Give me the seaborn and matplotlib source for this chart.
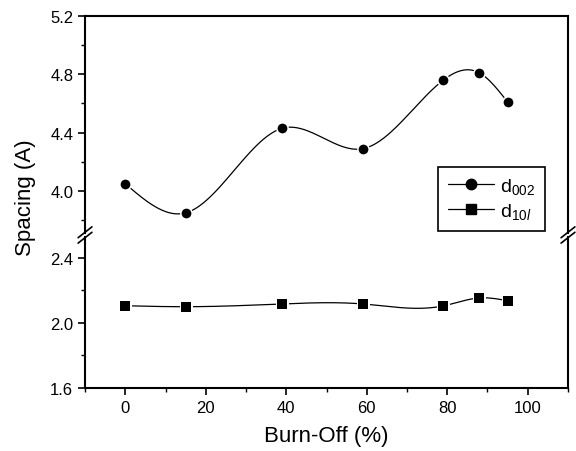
import numpy as np
import matplotlib
matplotlib.use("Agg")
import matplotlib.pyplot as plt
from matplotlib.lines import Line2D
import seaborn as sns

sns.set_style("ticks")
plt.rcParams['font.family'] = ['Liberation Sans', 'DejaVu Sans']
plt.rcParams['mathtext.fontset'] = 'custom'
plt.rcParams['mathtext.rm'] = 'Liberation Sans'
plt.rcParams['mathtext.it'] = 'Liberation Sans:italic'
plt.rcParams['text.color'] = 'black'
plt.rcParams['axes.labelcolor'] = 'black'
plt.rcParams['axes.edgecolor'] = 'black'

burn_off = [0, 15, 39, 59, 79, 88, 95]
d002 = [4.05, 3.85, 4.43, 4.29, 4.76, 4.81, 4.61]
d10l = [2.106, 2.100, 2.117, 2.117, 2.105, 2.154, 2.137]


def spline(x, y, n=300):
    # natural cubic spline, used only to draw the smooth connecting line
    x = np.asarray(x, float)
    y = np.asarray(y, float)
    k = len(x)
    h = np.diff(x)
    A = np.zeros((k, k))
    b = np.zeros(k)
    A[0, 0] = A[-1, -1] = 1
    for i in range(1, k - 1):
        A[i, i - 1] = h[i - 1]
        A[i, i] = 2 * (h[i - 1] + h[i])
        A[i, i + 1] = h[i]
        b[i] = 3 * ((y[i + 1] - y[i]) / h[i] - (y[i] - y[i - 1]) / h[i - 1])
    c = np.linalg.solve(A, b)
    xs = np.linspace(x[0], x[-1], n)
    idx = np.clip(np.searchsorted(x, xs) - 1, 0, k - 2)
    dx = xs - x[idx]
    bb = (y[idx + 1] - y[idx]) / h[idx] - h[idx] * (2 * c[idx] + c[idx + 1]) / 3
    dd = (c[idx + 1] - c[idx]) / (3 * h[idx])
    ys = y[idx] + bb * dx + c[idx] * dx ** 2 + dd * dx ** 3
    return xs, ys


fig = plt.figure(figsize=(5.76, 4.52), dpi=100)
ax_top = fig.add_axes([0.1476, 0.4823, 0.8385, 0.4801])
ax_bot = fig.add_axes([0.1476, 0.1394, 0.8385, 0.3341])

series = [(ax_top, d002, 'o', 7), (ax_bot, d10l, 's', 6.5)]
for ax, vals, mk, ms in series:
    xs, ys = spline(burn_off, vals)
    sns.lineplot(x=xs, y=ys, ax=ax, color='black', linewidth=0.9, sort=False)
    ax.plot(burn_off, vals, linestyle='none', marker=mk, markersize=ms,
            color='black', markeredgecolor='white', markeredgewidth=2.2)
    ax.plot(burn_off, vals, linestyle='none', marker=mk, markersize=ms,
            color='black', markeredgewidth=0)
    ax.set_xlim(-10, 110)
    for s in ax.spines.values():
        s.set_linewidth(1.5)
    ax.tick_params(which='major', direction='out', length=5, width=1.2,
                   labelsize=12, colors='black')
    ax.tick_params(which='minor', direction='out', length=3, width=1,
                   colors='black')

ax_top.set_ylim(3.712, 5.2)
ax_top.set_yticks([4.0, 4.4, 4.8, 5.2])
ax_top.set_yticks([3.8, 4.2, 4.6, 5.0], minor=True)
ax_top.spines['bottom'].set_visible(False)
ax_top.tick_params(axis='x', which='both', bottom=False, labelbottom=False)
ax_top.yaxis.set_major_formatter(matplotlib.ticker.FormatStrFormatter('%.1f'))

ax_bot.set_ylim(1.6, 2.529)
ax_bot.set_yticks([1.6, 2.0, 2.4])
ax_bot.set_yticks([1.8, 2.2], minor=True)
ax_bot.set_xticks([0, 20, 40, 60, 80, 100])
ax_bot.set_xticks([-10, 10, 30, 50, 70, 90, 110], minor=True)
ax_bot.spines['top'].set_visible(False)
ax_bot.yaxis.set_major_formatter(matplotlib.ticker.FormatStrFormatter('%.1f'))
ax_bot.set_xlabel("Burn-Off (%)", fontsize=16, labelpad=7)

fig.text(0.045, 0.563, "Spacing (A)", rotation=90, fontsize=16,
         ha='center', va='center')

# break marks on the left and right spines
y_break = 1 - 236 / 452
for xb in (0.1476, 0.1476 + 0.8385):
    for dy in (-0.006, 0.006):
        fig.add_artist(Line2D([xb - 0.012, xb + 0.012],
                              [y_break + dy - 0.012, y_break + dy + 0.012],
                              color='black', linewidth=1.2))

handles = [
    Line2D([], [], color='black', linewidth=0.9, marker='o', markersize=7.5),
    Line2D([], [], color='black', linewidth=0.9, marker='s', markersize=6.5),
]
labels = [r"d$_{\mathrm{002}}$", r"d$_{\mathrm{10}\mathit{l}}$"]
ax_top.legend(handles, labels, loc='lower right', bbox_to_anchor=(0.952, 0.01),
              borderaxespad=0, fontsize=14, handlelength=2.4,
              handletextpad=0.3, frameon=True, fancybox=False,
              edgecolor='black', framealpha=1, borderpad=0.5,
              labelspacing=0.25)
ax_top.get_legend().get_frame().set_linewidth(1.2)

fig.savefig("out.png", dpi=100)
